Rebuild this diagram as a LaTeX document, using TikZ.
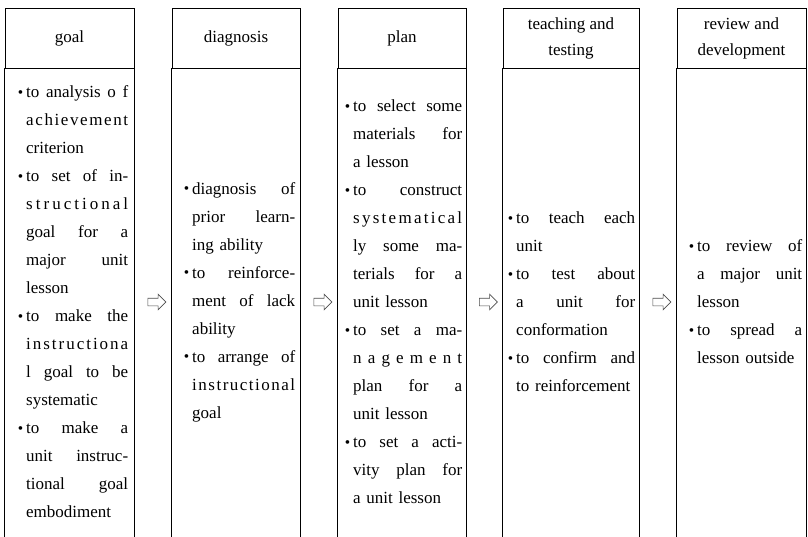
\documentclass[tikz,border=0pt]{standalone}
\usepackage{fontspec}
\usepackage{graphicx}
\setmainfont{Liberation Serif}
\usetikzlibrary{shapes.arrows}
\def\fjx#1 #2\relax{#1\ifx\relax#2\relax\else\hfill\fjx#2\relax\fi}
\newcommand{\fj}[1]{\makebox[\linewidth][s]{\fjx#1 \relax}\par}
\newcommand{\bul}{\llap{\raisebox{0.05ex}{\scalebox{0.9}{•}}\hspace{3pt}}}
\tikzset{
  hdr/.style={draw=black, line width=0.8pt, minimum height=60pt, inner sep=0pt,
    align=center, font=\fontsize{17}{26}\selectfont},
  body/.style={inner sep=0pt, anchor=west,
    font=\fontsize{17}{28}\selectfont\setlength{\parindent}{0pt}\setlength{\parskip}{0pt}},
  border/.style={draw=black, line width=0.8pt},
  arr/.style={single arrow, draw=black!70, line width=0.6pt, inner xsep=0pt,
    inner ysep=3.5pt, single arrow head extend=4pt, minimum height=18pt}
}
\begin{document}
\begin{tikzpicture}[x=1pt,y=-1pt]
\useasboundingbox (0,0) rectangle (808,536);
% headers
\node[hdr, minimum width=129pt] (h1) at (69.5,38) {goal};
\node[hdr, minimum width=128pt] (h2) at (236,38) {diagnosis};
\node[hdr, minimum width=128pt] (h3) at (402,38) {plan};
\node[hdr, minimum width=136pt] (h4) at (571,38) {teaching and\\testing};
\node[hdr, minimum width=129pt] (h5) at (741.5,38) {review and\\development};
% column borders
\foreach \h in {h1,h2,h3,h4,h5}{
  \draw[border] (\h.south west) -- ++(0,480);
  \draw[border] (\h.south east) -- ++(0,480);
}
% bodies
\node[body, text width=102pt] (b1) at (26,302) {%
\fj{\bul to analysis o f}
\fj{a c h i e v e m e n t}
criterion\par
\fj{\bul to set of in-}
\fj{s t r u c t i o n a l}
\fj{goal for a}
\fj{major unit}
lesson\par
\fj{\bul to make the}
\fj{i n s t r u c t i o n a}
\fj{l goal to be}
systematic\par
\fj{\bul to make a}
\fj{unit instruc-}
\fj{tional goal}
embodiment};
\node[body, text width=103pt] (b2) at (192,302) {%
\fj{\bul diagnosis of}
\fj{prior learn-}
ing ability\par
\fj{\bul to reinforce-}
\fj{ment of lack}
ability\par
\fj{\bul to arrange of}
\fj{i n s t r u c t i o n a l}
goal};
\node[body, text width=109pt] (b3) at (353,302) {%
\fj{\bul to select some}
\fj{materials for}
a lesson\par
\fj{\bul to construct}
\fj{s y s t e m a t i c a l}
\fj{ly some ma-}
\fj{terials for a}
unit lesson\par
\fj{\bul to set a ma-}
\fj{n a g e m e n t}
\fj{plan for a}
unit lesson\par
\fj{\bul to set a acti-}
\fj{vity plan for}
a unit lesson};
\node[body, text width=119pt] (b4) at (516,302) {%
\fj{\bul to teach each}
unit\par
\fj{\bul to test about}
\fj{a unit for}
conformation\par
\fj{\bul to confirm and}
to reinforcement};
\node[body, text width=105pt] (b5) at (697,302) {%
\fj{\bul to review of}
\fj{a major unit}
lesson\par
\fj{\bul to spread a}
lesson outside};
% arrows
\node[arr] (a1) at (155,302) {};
\node[arr] (a2) at (321,302) {};
\node[arr] (a3) at (486.5,302) {};
\node[arr] (a4) at (660,302) {};
\end{tikzpicture}
\end{document}
